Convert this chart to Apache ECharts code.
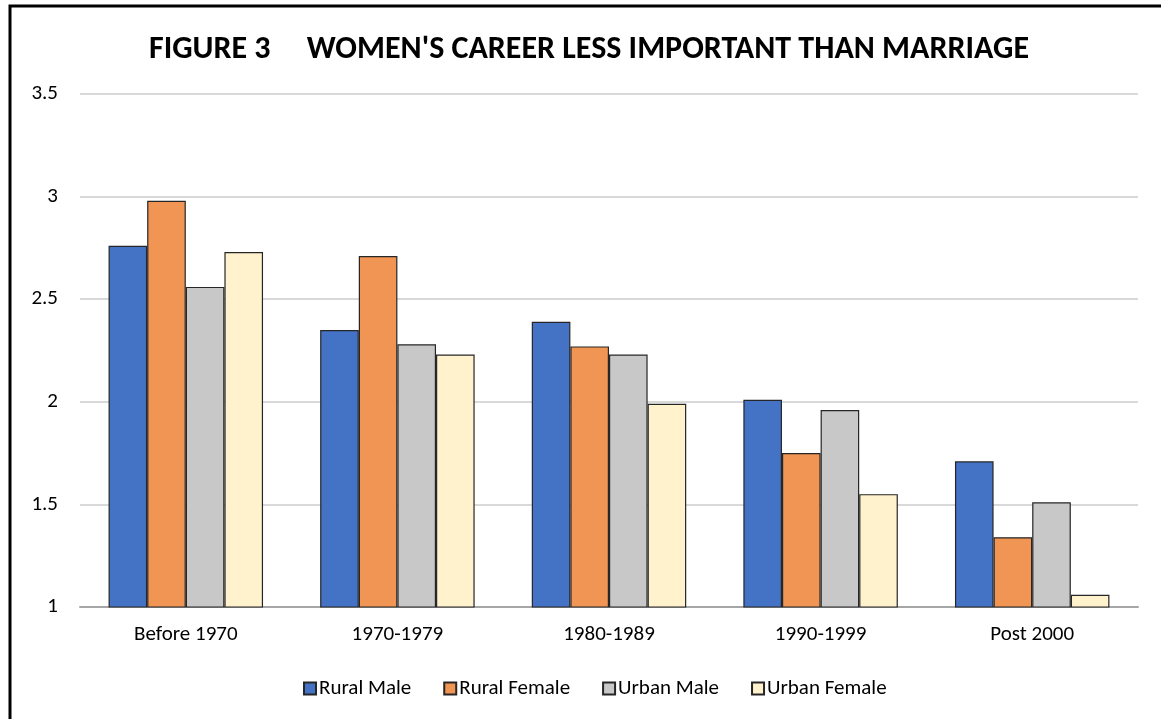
<!DOCTYPE html>
<html>
<head>
<meta charset="utf-8">
<script src="https://cdn.jsdelivr.net/npm/echarts@6/dist/echarts.min.js"></script>
<style>
  html, body { margin: 0; padding: 0; background: #fff; }
  #chart { width: 1161px; height: 719px; }
</style>
</head>
<body>
<div id="chart"></div>
<script>
// Cohort groups along the x axis
const categories = ['Before 1970', '1970-1979', '1980-1989', '1990-1999', 'Post 2000'];

// Mean agreement score per group
const ruralMale   = [2.76, 2.35, 2.39, 2.01, 1.71];
const ruralFemale = [2.98, 2.71, 2.27, 1.75, 1.34];
const urbanMale   = [2.56, 2.28, 2.23, 1.96, 1.51];
const urbanFemale = [2.73, 2.23, 1.99, 1.55, 1.06];

const seriesNames = ['Rural Male', 'Rural Female', 'Urban Male', 'Urban Female'];
const seriesColors = ['#4472C4', '#F09553', '#C8C8C8', '#FFF2CC'];
const seriesData = [ruralMale, ruralFemale, urbanMale, urbanFemale];

const FONT = 'Carlito, Lato, "Liberation Sans", sans-serif';

const chart = echarts.init(document.getElementById('chart'));
chart.setOption({
  animation: false,
  textStyle: { fontFamily: FONT },
  title: {
    text: 'FIGURE 3     WOMEN\'S CAREER LESS IMPORTANT THAN MARRIAGE',
    left: 144,
    top: 29,
    textStyle: { fontFamily: FONT, fontSize: 32, fontWeight: 'bold', color: '#000' }
  },
  legend: {
    data: seriesNames,
    bottom: 15,
    left: 298,
    itemWidth: 12,
    itemHeight: 12,
    itemGap: 32,
    icon: 'rect',
    textStyle: { fontFamily: FONT, fontSize: 21, color: '#000', padding: [0, 0, 0, -2] }
  },
  grid: { left: 80, right: 23, top: 94, bottom: 112, containLabel: false },
  xAxis: {
    type: 'category',
    data: categories,
    axisLine: { lineStyle: { color: '#A6A6A6', width: 2 } },
    axisTick: { show: false },
    axisLabel: { fontFamily: FONT, fontSize: 21, color: '#000', margin: 17 }
  },
  yAxis: {
    type: 'value',
    min: 1,
    max: 3.5,
    interval: 0.5,
    axisLine: { show: false },
    axisTick: { show: false },
    splitLine: { lineStyle: { color: '#D9D9D9', width: 2 } },
    axisLabel: { fontFamily: FONT, fontSize: 21, color: '#000', margin: 22 }
  },
  series: seriesData.map((d, i) => ({
    name: seriesNames[i],
    type: 'bar',
    data: d,
    barGap: '0%',
    barCategoryGap: '27%',
    itemStyle: { color: seriesColors[i], borderColor: '#262626', borderWidth: 1.2 }
  })),
  graphic: [{
    type: 'rect',
    shape: { x: 10, y: 6, width: 1300, height: 900 },
    style: { fill: 'none', stroke: '#000', lineWidth: 3 },
    silent: true
  }]
});
</script>
</body>
</html>
